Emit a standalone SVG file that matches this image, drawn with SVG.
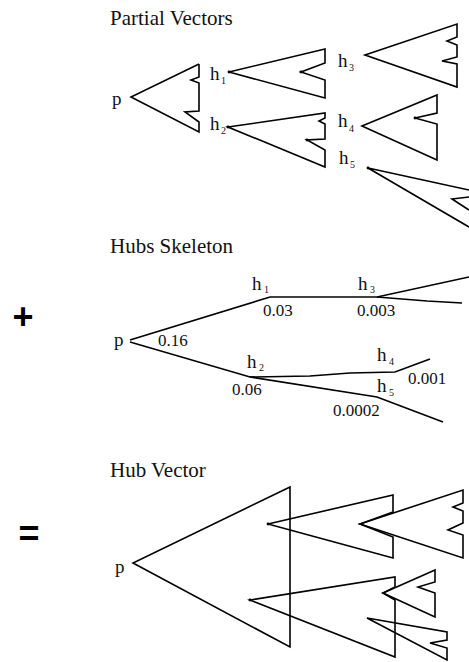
<svg xmlns="http://www.w3.org/2000/svg" width="469" height="662" viewBox="0 0 469 662">
<style>
.ln{fill:none;stroke:#000;stroke-width:1.6;stroke-linejoin:miter;stroke-linecap:butt}
.t{font-family:"Liberation Serif","Times New Roman",serif;fill:#111}
.title{font-size:21px}
.lab{font-size:19px}
.sub{font-size:10px}
.num{font-size:17px}
.op{font-family:"Liberation Sans",Arial,sans-serif;font-weight:bold;font-size:36px;fill:#000}
.dot{fill:#000}
</style>
<rect width="469" height="662" fill="#fff"/>

<!-- Section titles and operators -->
<text class="t title" x="110" y="25">Partial Vectors</text>
<text class="t title" x="110" y="253">Hubs Skeleton</text>
<text class="t title" x="110" y="477">Hub Vector</text>
<text class="op" x="23" y="329" text-anchor="middle">+</text>
<text class="op" x="29" y="546" text-anchor="middle">=</text>

<!-- Partial Vectors -->
<g id="pv-p">
<polyline class="ln" points="199,64 131,97 199,132 199,122 185,112 199,111 199,83 191,80 199,77 199,64"/>
<text class="t lab" x="112" y="105">p</text>
</g>
<g id="pv-h1">
<polygon class="ln" points="229,72 325,49 325,63 301,72 325,80 325,98"/>
<circle class="dot" cx="229" cy="72" r="1.4"/><circle class="dot" cx="301" cy="72" r="1.4"/>
<text class="t lab" x="210" y="80">h</text><text class="t sub" x="221" y="84">1</text>
</g>
<g id="pv-h2">
<polygon class="ln" points="228,127 325,113 325,118 319,121 325,124 325,139 307,140 325,150 325,167"/>
<circle class="dot" cx="228" cy="127" r="1.4"/><circle class="dot" cx="307" cy="140" r="1.4"/>
<text class="t lab" x="210" y="130">h</text><text class="t sub" x="221" y="134">2</text>
</g>
<g id="pv-h3">
<polygon class="ln" points="365,55 457,24 457,37 447,41 457,45 457,57 442,61 457,64 457,87"/>
<text class="t lab" x="338" y="67">h</text><text class="t sub" x="349" y="71">3</text>
</g>
<g id="pv-h4">
<polygon class="ln" points="362,126 437,95 437,113 415,118 437,124 437,160"/>
<circle class="dot" cx="415" cy="118" r="1.4"/>
<text class="t lab" x="338" y="127">h</text><text class="t sub" x="349" y="132">4</text>
</g>
<g id="pv-h5">
<polyline class="ln" points="469,190 368,168 469,227"/>
<polyline class="ln" points="469,197 452,199 469,210"/>
<circle class="dot" cx="368" cy="168" r="1.4"/>
<text class="t lab" x="339" y="164">h</text><text class="t sub" x="350" y="168">5</text>
</g>

<!-- Hubs Skeleton -->
<g id="hs-connectors">
<polyline class="ln" points="130,340 270,297 377,297 469,277"/>
<polyline class="ln" points="377,297 427,301 462,303"/>
<polyline class="ln" points="130,342 250,377 310,376 350,373 395,372 430,359"/>
<polyline class="ln" points="250,377 377,397 443,422"/>
</g>
<g id="hs-p"><text class="t lab" x="114" y="346">p</text><text class="t num" x="158" y="346">0.16</text></g>
<g id="hs-h1"><text class="t lab" x="252" y="290">h</text><text class="t sub" x="264" y="293">1</text><text class="t num" x="263" y="316">0.03</text></g>
<g id="hs-h3"><text class="t lab" x="358" y="290">h</text><text class="t sub" x="370" y="293">3</text><text class="t num" x="357" y="316">0.003</text></g>
<g id="hs-h2"><text class="t lab" x="247" y="368">h</text><text class="t sub" x="259" y="371">2</text><text class="t num" x="232" y="395">0.06</text></g>
<g id="hs-h4"><text class="t lab" x="377" y="361">h</text><text class="t sub" x="389" y="365">4</text><text class="t num" x="408" y="384">0.001</text></g>
<g id="hs-h5"><text class="t lab" x="377" y="392">h</text><text class="t sub" x="389" y="396">5</text><text class="t num" x="333" y="416">0.0002</text></g>

<!-- Hub Vector -->
<g id="hv-p">
<polygon class="ln" points="290,487 133,563 290,647"/>
<text class="t lab" x="115" y="573">p</text>
</g>
<g id="hv-h1"><polygon class="ln" points="268,524 393,495 393,512 360,524 393,537 393,558"/><circle class="dot" cx="268" cy="524" r="1.4"/></g>
<g id="hv-h3"><polygon class="ln" points="360,524 463,490 463,503 453,507 463,511 463,523 448,530 463,535 463,558"/></g>
<g id="hv-h2"><polygon class="ln" points="250,600 395,577 395,587 383,593 395,600 395,657"/><circle class="dot" cx="250" cy="600" r="1.4"/></g>
<g id="hv-h4"><polygon class="ln" points="383,593 435,570 435,582 418,587 435,593 435,617"/></g>
<g id="hv-h5"><polygon class="ln" points="367,618 447,632 447,640 430,643 447,648 447,660"/></g>
</svg>
